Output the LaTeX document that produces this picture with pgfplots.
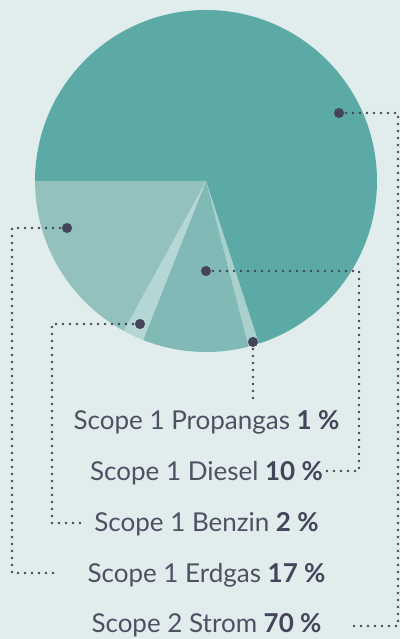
\documentclass[border=0pt]{standalone}
\usepackage{fontspec}
\setmainfont{Lato}
\usepackage{pgfplots}
\pgfplotsset{compat=1.18}

\definecolor{bg}{HTML}{E1ECEC}
\definecolor{strom}{HTML}{5BAAA6}
\definecolor{erdgas}{HTML}{92C1BE}
\definecolor{diesel}{HTML}{80B9B5}
\definecolor{benzin}{HTML}{B4D6D4}
\definecolor{propan}{HTML}{A9D0CD}
\definecolor{ink}{HTML}{44445A}
\definecolor{txt}{HTML}{505064}

% pie centre and radius in axis units (1 unit = 1pt)
\def\cx{206}
\def\cy{458}
\def\rr{171}
% #1 = cumulative share before slice, #2 = share, #3 = colour
\newcommand{\slice}[3]{%
  \fill[#3] (axis cs:\cx,\cy) -- (axis cs:{\cx+\rr*cos(180-3.6*#1)},{\cy+\rr*sin(180-3.6*#1)})
    arc[start angle={180-3.6*#1}, end angle={180-3.6*(#1+#2)}, radius=171pt] -- cycle;}

\begin{document}
\begin{tikzpicture}
\begin{axis}[
    x=1pt, y=1pt,
    xmin=0, xmax=400, ymin=0, ymax=639,
    enlargelimits=false,
    hide axis,
    clip=false,
    leader/.style={ink, no markers, line width=2.8pt, line cap=round, dash pattern=on 0pt off 7pt},
]
\fill[bg] (axis cs:0,0) rectangle (axis cs:400,639);

% shares: Strom 70, Propangas 1, Diesel 10, Benzin 2, Erdgas 17
\slice{0}{70}{strom}
\slice{70}{1}{propan}
\slice{71}{10}{diesel}
\slice{81}{2}{benzin}
\slice{83}{17}{erdgas}

% leader lines
\addplot[leader] coordinates {(339,526) (398,526) (398,13) (348,13)};
\addplot[leader] coordinates {(67,411) (12,411) (12,66) (58,66)};
\addplot[leader] coordinates {(140,315) (52,315) (52,116) (83,116)};
\addplot[leader] coordinates {(206,368) (359,368) (359,168) (323,168)};
\addplot[leader] coordinates {(253,297) (253,236)};

\addplot[only marks, mark=*, mark size=4.8pt, ink] coordinates {
  (339,526) (67,411) (140,315) (206,368) (253,297)};

\begin{scope}[every node/.style={anchor=base, text=txt, inner sep=0pt, font=\fontsize{26}{30}\selectfont}]
\node at (axis cs:206.5,209) {Scope 1 Propangas \textbf{\color{ink}1 \%}};
\node at (axis cs:206.5,158) {Scope 1 Diesel \textbf{\color{ink}10 \%}};
\node at (axis cs:206.5,107) {Scope 1 Benzin \textbf{\color{ink}2 \%}};
\node at (axis cs:206.5,56) {Scope 1 Erdgas \textbf{\color{ink}17 \%}};
\node at (axis cs:206.5,6) {Scope 2 Strom \textbf{\color{ink}70 \%}};
\end{scope}
\end{axis}
\end{tikzpicture}
\end{document}
